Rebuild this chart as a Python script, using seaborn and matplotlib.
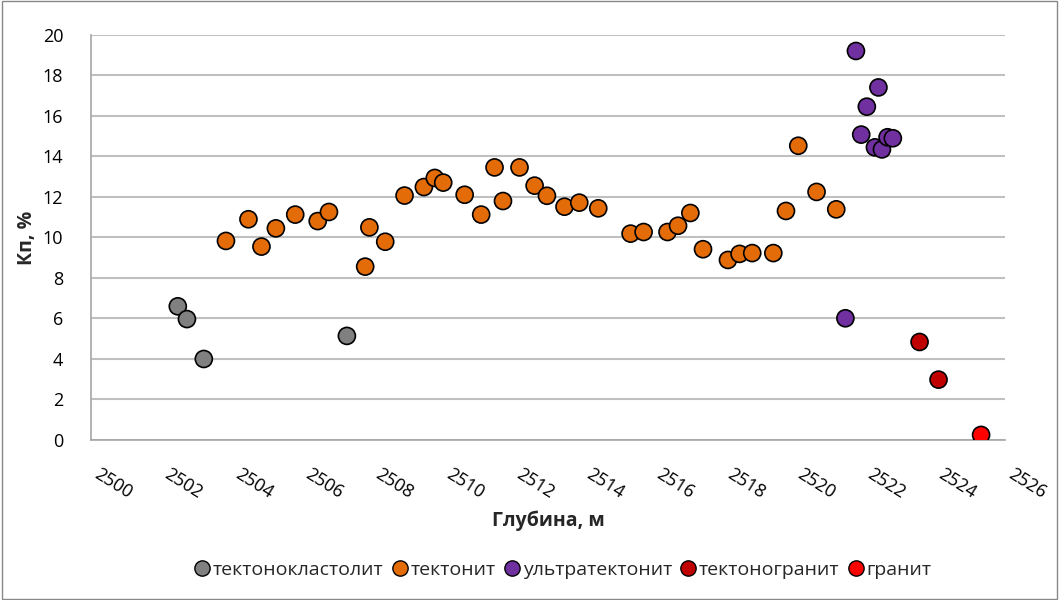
import matplotlib
matplotlib.use("Agg")
import matplotlib.pyplot as plt
import seaborn as sns
import pandas as pd
from matplotlib.lines import Line2D
from matplotlib.patches import Rectangle

# rock types (legend order) and their colours
types = ["тектонокластолит", "тектонит", "ультратектонит", "тектоногранит", "гранит"]
colors = ["#808080", "#E36C09", "#7030A0", "#C00000", "#FF0000"]

# depth, m / porosity Kp, %
tk_depth = [2502.47, 2502.73, 2503.21, 2507.28]
tk_kp = [6.6, 5.97, 4.0, 5.14]

t_depth = [2503.84, 2504.48, 2504.85, 2505.26, 2505.81, 2506.45, 2506.77, 2507.80,
           2507.92, 2508.37, 2508.92, 2509.47, 2509.78, 2510.02, 2510.63, 2511.10,
           2511.48, 2511.72, 2512.19, 2512.62, 2512.97, 2513.47, 2513.89, 2514.43,
           2515.35, 2515.72, 2516.40, 2516.70, 2517.05, 2517.41, 2518.12, 2518.45,
           2518.81, 2519.41, 2519.77, 2520.12, 2520.64, 2521.20]
t_kp = [9.83, 10.9, 9.55, 10.45, 11.13, 10.81, 11.26, 8.56,
        10.5, 9.79, 12.07, 12.49, 12.94, 12.71, 12.11, 11.13,
        13.46, 11.80, 13.46, 12.56, 12.06, 11.52, 11.72, 11.44,
        10.19, 10.27, 10.27, 10.58, 11.21, 9.42, 8.89, 9.19,
        9.23, 9.23, 11.31, 14.53, 12.25, 11.39]

u_depth = [2521.76, 2522.40, 2522.07, 2521.91, 2522.30, 2522.50, 2522.66, 2522.81, 2521.46]
u_kp = [19.21, 17.41, 16.46, 15.08, 14.45, 14.35, 14.95, 14.90, 6.01]

tg_depth = [2523.57, 2524.11]
tg_kp = [4.84, 2.98]

g_depth = [2525.32]
g_kp = [0.25]

frames = []
for name, d, k in zip(types, [tk_depth, t_depth, u_depth, tg_depth, g_depth],
                      [tk_kp, t_kp, u_kp, tg_kp, g_kp]):
    frames.append(pd.DataFrame({"depth": d, "kp": k, "type": name}))
df = pd.concat(frames, ignore_index=True)

sns.set_style("white")
plt.rcParams["font.family"] = ["Open Sans", "DejaVu Sans"]

fig = plt.figure(figsize=(10.59, 6), dpi=100)
ax = fig.add_axes([0.0859, 0.2667, 0.8631, 0.675])

sns.scatterplot(data=df, x="depth", y="kp", hue="type", hue_order=types,
                palette=colors, s=150, edgecolor="black", linewidth=1.2,
                legend=False, ax=ax, zorder=3)

ax.set_xlim(2500, 2526)
ax.set_ylim(0, 20)
ax.set_xticks(range(2500, 2527, 2))
ax.set_yticks(range(0, 21, 2))
ax.yaxis.grid(True, color="#c0c0c0", linewidth=1.5)
ax.set_axisbelow(True)
for s in ["top", "right"]:
    ax.spines[s].set_visible(False)
for s in ["left", "bottom"]:
    ax.spines[s].set_color("#a6a6a6")
    ax.spines[s].set_linewidth(1.2)
ax.tick_params(axis="both", direction="out", length=6, color="#a6a6a6",
               labelsize=13, colors="#a6a6a6", labelcolor="black")
ax.tick_params(axis="y", pad=14)
ax.tick_params(axis="x", pad=12)
for lab in ax.get_xticklabels():
    lab.set_rotation(-32)
    lab.set_ha("left")

ax.set_xlabel("Глубина, м", fontsize=14, fontweight="bold", labelpad=6)
ax.set_ylabel("Кп, %", fontsize=14, fontweight="bold", labelpad=4)

handles = [Line2D([], [], marker="o", linestyle="", markersize=11,
                  markerfacecolor=c, markeredgecolor="black", markeredgewidth=1.0)
           for c in colors]
fig.legend(handles, types, loc="center", bbox_to_anchor=(0.531, 0.05), ncol=5,
           frameon=False, fontsize=14, handletextpad=0.1, columnspacing=0.4,
           handlelength=0.9)

fig.patches.append(Rectangle((0.002, 0.002), 0.996, 0.996, transform=fig.transFigure,
                             fill=False, edgecolor="#888888", linewidth=1))

fig.savefig("out.png", dpi=100)
